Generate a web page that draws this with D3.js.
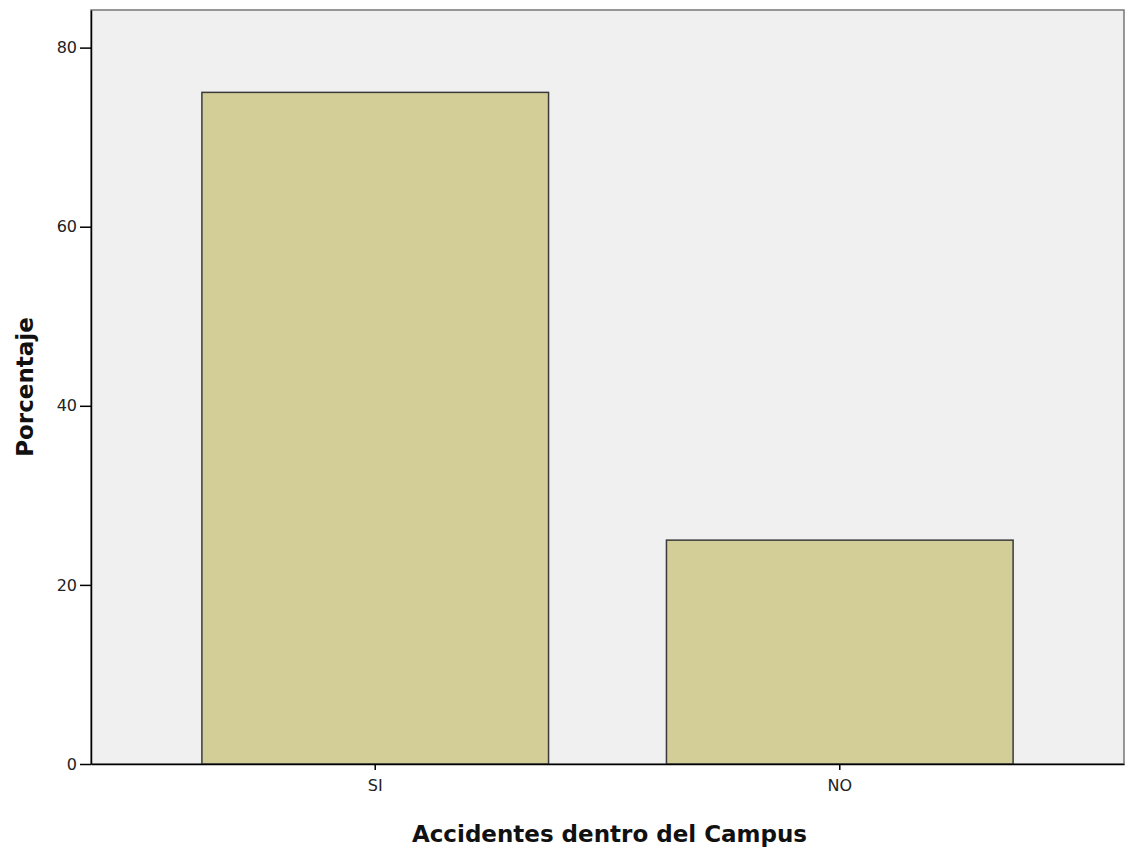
<!DOCTYPE html>
<head>
  <meta charset="utf-8">
  <style>
    body { margin: 0; background: #fff; }
    svg { font-family: "DejaVu Sans", sans-serif; }
    .bar { fill: #d3ce98; stroke: #3a3a3a; stroke-width: 1.5px; }
    .axis text { font-size: 16px; fill: #222; font-family: "DejaVu Sans", sans-serif; }
    .axis path, .axis line { stroke: #000; stroke-width: 1.5px; }
    .title { font-size: 23px; font-weight: bold; fill: #111; }
  </style>
</head>
<body>
  <svg></svg>
  <script src="https://d3js.org/d3.v7.min.js"></script>
  <script>
    // valores
    const categories = ["SI", "NO"];
    const values = [75, 25];
    const yTicks = [0, 20, 40, 60, 80];

    const width = 1126, height = 851;
    const mLeft = 91, mRight = 1124, mTop = 10, mBottom = 764;

    const svg = d3.select('svg').attr('width', width).attr('height', height);

    const x = d3.scaleBand()
        .domain(categories)
        .range([mLeft, mRight])
        .paddingInner(0.2538)
        .paddingOuter(0.2387);

    const y = d3.scaleLinear().domain([0, 84.2]).range([mBottom, mTop]);

    // fondo del area
    svg.append('rect')
        .attr('x', mLeft).attr('y', mTop)
        .attr('width', mRight - mLeft).attr('height', mBottom - mTop)
        .attr('fill', '#f0f0f0')
        .attr('stroke', '#777').attr('stroke-width', 1.5);

    svg.append('g').selectAll('.bar')
        .data(values)
        .enter().append('rect')
        .classed('bar', true)
        .attr('x', (d, i) => x(categories[i]))
        .attr('y', d => y(d))
        .attr('width', x.bandwidth())
        .attr('height', d => mBottom - y(d));

    svg.append('g')
        .classed('axis', true)
        .attr('transform', 'translate(' + mLeft + ',0)')
        .call(d3.axisLeft(y).tickValues(yTicks).tickSize(11).tickPadding(3).tickSizeOuter(0));

    svg.append('g')
        .classed('axis', true)
        .attr('transform', 'translate(0,' + mBottom + ')')
        .call(d3.axisBottom(x).tickSize(6).tickPadding(10).tickSizeOuter(0));

    svg.append('text')
        .classed('title', true)
        .attr('x', (mLeft + mRight) / 2 + 2)
        .attr('y', 842)
        .attr('text-anchor', 'middle')
        .text('Accidentes dentro del Campus');

    svg.append('text')
        .classed('title', true)
        .attr('transform', 'translate(33,' + 387 + ') rotate(-90)')
        .attr('text-anchor', 'middle')
        .text('Porcentaje');
  </script>
</body>
